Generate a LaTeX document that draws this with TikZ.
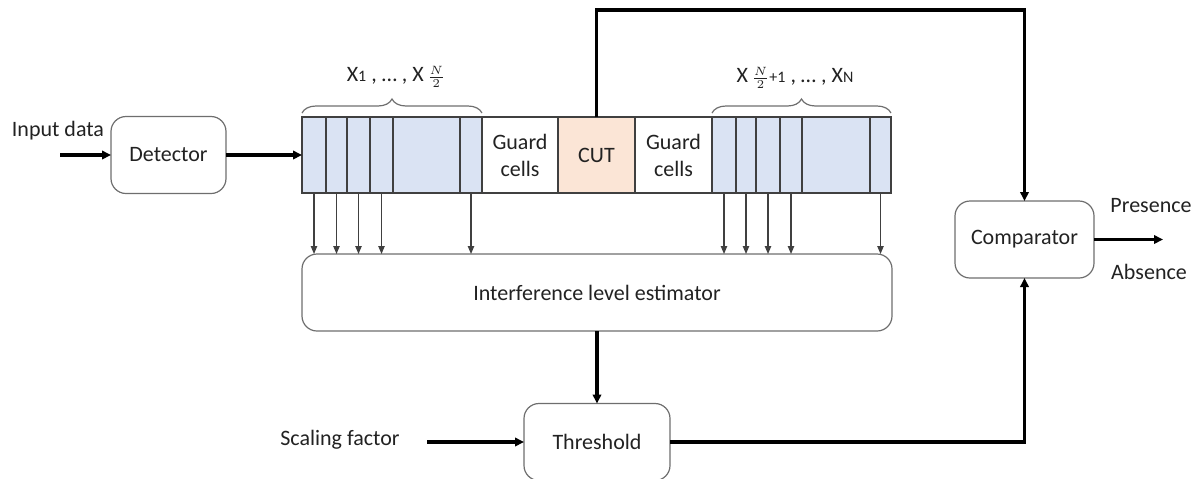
\documentclass[tikz,border=0pt]{standalone}
\usepackage{fontspec}
\setmainfont{Carlito}
\usetikzlibrary{arrows.meta,decorations.pathreplacing,calc}
\definecolor{cellblue}{HTML}{DAE3F3}
\definecolor{cutfill}{HTML}{FBE5D6}
\definecolor{boxline}{HTML}{6E6E6E}
\definecolor{celline}{HTML}{404040}
\definecolor{txt}{HTML}{222222}
\begin{document}
\begin{tikzpicture}[x=0.5pt,y=-0.5pt,
  font=\fontsize{11}{13.5}\selectfont, text=txt,
  blockbox/.style={draw=boxline, line width=0.6pt, rounded corners=7.5pt, fill=white,
    minimum height=38.5pt, inner sep=0pt, outer sep=0pt, align=center},
  cellbox/.style={draw=celline, line width=0.6pt, minimum height=38pt, inner sep=0pt,
    outer sep=0pt, align=center},
  bluecell/.style={cellbox, fill=cellblue},
  thickarrow/.style={line width=1.6pt, -{Triangle[length=4.5pt,width=4.2pt]}},
  thinarrow/.style={line width=0.6pt, draw=celline, -{Triangle[length=4pt,width=3.2pt]}},
  bracedeco/.style={draw=boxline, line width=0.6pt,
    decorate, decoration={brace, amplitude=7pt}},
  lbl/.style={inner sep=0pt, align=center}
]
\useasboundingbox (0,0) rectangle (1200,478);

% Detector
\node[blockbox, minimum width=57.5pt] (det) at (168.5,155) {Detector};
\node[lbl] (inlbl) at (58,131) {Input data};
\coordinate (in) at (60,155);

% left cells: 302,326,347,370,393,460,482
\node[bluecell, minimum width=12pt]   (l1) at (314,155) {};
\node[bluecell, minimum width=10.5pt] (l2) at (336.5,155) {};
\node[bluecell, minimum width=11.5pt] (l3) at (358.5,155) {};
\node[bluecell, minimum width=11.5pt] (l4) at (381.5,155) {};
\node[bluecell, minimum width=33.5pt] (l5) at (426.5,155) {};
\node[bluecell, minimum width=11pt]   (l6) at (471,155) {};
% guard / CUT / guard
\node[cellbox, minimum width=38pt] (g1) at (520,155) {Guard\\cells};
\node[cellbox, minimum width=38.5pt, fill=cutfill] (cut) at (596.5,155) {CUT};
\node[cellbox, minimum width=38.5pt] (g2) at (673.5,155) {Guard\\cells};
% right cells: 712,736,756,780,802,870,891
\node[bluecell, minimum width=12pt]   (r1) at (724,155) {};
\node[bluecell, minimum width=10pt]   (r2) at (746,155) {};
\node[bluecell, minimum width=12pt]   (r3) at (768,155) {};
\node[bluecell, minimum width=11pt]   (r4) at (791,155) {};
\node[bluecell, minimum width=34pt]   (r5) at (836,155) {};
\node[bluecell, minimum width=10.5pt] (r6) at (880.5,155) {};

% braces and labels
\coordinate (bl1) at (302,113);
\coordinate (bl2) at (482,113);
\coordinate (br1) at (712,113);
\coordinate (br2) at (891,113);
\draw[bracedeco] (bl1) -- (bl2);
\draw[bracedeco] (br1) -- (br2);
\node[lbl] (lab1) at (396,77) {X{\footnotesize 1} , \dots\ , X\,{\footnotesize$\frac{N}{2}$}};
\node[lbl] (lab2) at (795,78) {X\,{\footnotesize$\frac{N}{2}$+1} , \dots\ , X{\footnotesize N}};

% estimator
\node[blockbox, minimum width=295pt] (est) at (597,292.5) {Interference level estimator};

% comparator
\node[blockbox, minimum width=69.5pt] (comp) at (1024.5,239.5) {Comparator};
\node[lbl] (pres) at (1151,206) {Presence};
\node[lbl] (abs) at (1149,272) {Absence};
\coordinate (out) at (1163,239.5);

% threshold
\node[blockbox, minimum width=73pt] (thr) at (597,442) {Threshold};
\node[lbl] (sf) at (340,440) {Scaling factor};
\coordinate (sfa) at (427,442);
\coordinate (top) at (0,10);

% connectors
\draw[thickarrow] (in) -- (det.west);
\draw[thickarrow] (det.east) -- (l1.west);
\foreach \c in {l1,l2,l3,l4,l6,r1,r2,r3,r4,r6}{
  \draw[thinarrow] (\c.south) -- (\c.south |- est.north);
}
\draw[thickarrow] (est.south) -- (thr.north);
\draw[thickarrow] (sfa) -- (thr.west);
\draw[thickarrow] (thr.east) -| (comp.south);
\draw[thickarrow] (cut.north) -- (cut.north |- top) -| (comp.north);
\draw[thickarrow] (comp.east) -- (out);
\end{tikzpicture}
\end{document}
